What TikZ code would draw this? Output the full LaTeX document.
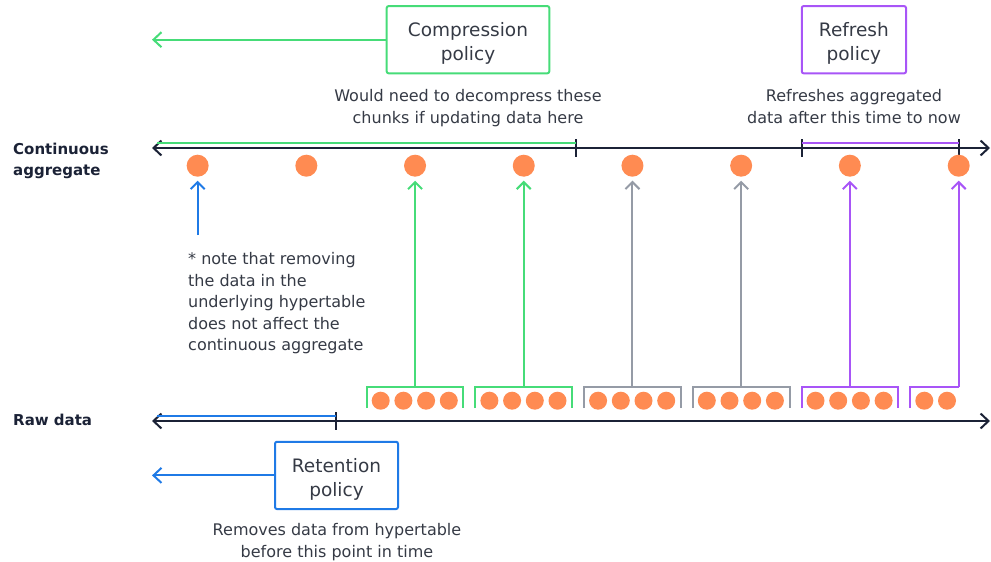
\documentclass[tikz,border=0pt]{standalone}
\usepackage{fontspec}
\setmainfont{DejaVu Sans}
\usetikzlibrary{arrows.meta}

\definecolor{axisc}{HTML}{1B2236}
\definecolor{grn}{HTML}{46DC78}
\definecolor{prp}{HTML}{A855F7}
\definecolor{blu}{HTML}{1F7AE6}
\definecolor{gry}{HTML}{959BA6}
\definecolor{org}{HTML}{FF8B52}
\definecolor{txt}{HTML}{353A45}

\begin{document}
\begin{tikzpicture}[x=1pt,y=-1pt,
  hbarb/.style={arrows={-Straight Barb[length=8pt,width=15pt]}},
  vbarb/.style={arrows={-Straight Barb[length=7pt,width=14pt]}, shorten >=4pt},
  axisline/.style={draw=axisc, line width=2pt,
    arrows={Straight Barb[length=8pt,width=15pt]-Straight Barb[length=8pt,width=15pt]}},
  tickmark/.style={inner sep=0pt, outer sep=0pt, minimum width=0pt, minimum height=18pt},
  bigdot/.style={circle, fill=org, minimum size=22pt, inner sep=0pt, outer sep=0pt},
  smalldot/.style={circle, fill=org, minimum size=18pt, inner sep=0pt},
  chunk/.style={inner sep=0pt, outer sep=0pt, minimum height=21.3pt},
  policy/.style={draw, line width=2pt, rounded corners=2pt, inner sep=0pt,
    minimum height=67.3pt},
  policytext/.style={align=center, text=txt, inner sep=0pt,
    font=\fontsize{18.5}{24}\selectfont},
  desc/.style={align=center, text=txt, inner sep=0pt,
    font=\fontsize{16}{21.5}\selectfont},
  rowlabel/.style={align=left, text=axisc, inner sep=0pt,
    font=\fontsize{15}{21.5}\selectfont\bfseries},
  link/.style={line width=2pt}
]
\useasboundingbox (0,0) rectangle (991,562);

% ---------- continuous aggregate axis ----------
\coordinate (al) at (152,148);
\coordinate (ar) at (990,148);
\draw[axisline] (al) -- (ar);
\node[tickmark] (k1) at (576,148) {};
\node[tickmark] (k2) at (801.5,148) {};
\node[tickmark] (k3) at (958.7,148) {};
\foreach \k in {k1,k2,k3}
  \draw[axisc, line width=2pt] (\k.north) -- (\k.south);
\coordinate (gs) at (157,142.7);
\draw[grn, link] (gs) -- (gs -| k1);
\draw[prp, link] (k2 |- gs) -- (k3 |- gs);

\foreach \i in {1,...,7}
  \node[bigdot] (t\i) at ({415.05+108.7*(\i-3)},165.7) {};
\node[bigdot] (t8) at (958.7,165.7) {};

% ---------- raw data axis ----------
\coordinate (bl) at (152,421);
\coordinate (br) at (990,421);
\draw[axisline] (bl) -- (br);
\node[tickmark] (k4) at (336,421) {};
\draw[axisc, line width=2pt] (k4.north) -- (k4.south);
\coordinate (bs) at (157,415.9);
\draw[blu, link] (bs) -- (bs -| k4);

% ---------- chunks of raw data ----------
\foreach \i in {1,...,5} {
  \pgfmathsetmacro{\L}{366.7+108.7*(\i-1)}
  \node[chunk, minimum width=96.7pt] (c\i) at (\L+48.35,397.35) {};
  \foreach \j in {0,1,2,3}
    \node[smalldot] (d\i\j) at (\L+14+22.7*\j,400.7) {};
}
\node[chunk, minimum width=48.7pt] (c6) at (934.35,397.35) {};
\node[smalldot] (d60) at (924.3,400.7) {};
\node[smalldot] (d61) at (947,400.7) {};

\foreach \i/\col in {1/grn,2/grn,3/gry,4/gry,5/prp}
  \draw[\col, link] (c\i.south west) -- (c\i.north west) -- (c\i.north east) -- (c\i.south east);
\draw[prp, link] (c6.south west) -- (c6.north west) -- (c6.north east);

% ---------- chunk to aggregate links ----------
\draw[grn, link, vbarb] (c1.north) -- (c1.north |- t3.south);
\draw[grn, link, vbarb] (c2.north) -- (c2.north |- t4.south);
\draw[gry, link, vbarb] (c3.north) -- (c3.north |- t5.south);
\draw[gry, link, vbarb] (c4.north) -- (c4.north |- t6.south);
\draw[prp, link, vbarb] (c5.north) -- (c5.north |- t7.south);
\draw[prp, link, vbarb] (c6.north east) -- (c6.north east |- t8.south);
\coordinate (nb) at (t1 |- 0,235);
\draw[blu, link, vbarb] (nb) -- (t1.south);

% ---------- policies ----------
\node[policy, draw=grn, minimum width=162.6pt] (comp) at (468,39.7) {};
\node[policy, draw=prp, minimum width=104.3pt] (refr) at (853.9,39.7) {};
\node[policy, draw=blu, minimum width=123pt] (ret) at (336.5,475.4) {};
\node[policytext] (compt) at ([yshift=-4pt]comp.center) {Compression\\policy};
\node[policytext] (refrt) at ([yshift=-4pt]refr.center) {Refresh\\policy};
\node[policytext] (rett) at ([yshift=-3.5pt]ret.center) {Retention\\policy};
\coordinate (ca) at (152,39.7);
\coordinate (ra) at (152,475.4);
\draw[grn, link, hbarb] (comp.west) -- (ca);
\draw[blu, link, hbarb] (ret.west) -- (ra);

% ---------- descriptions (anchored at the baseline of the last line) ----------
\node[desc, anchor=base] (cdesc) at (468,123)
  {Would need to decompress these\\chunks if updating data here};
\node[desc, anchor=base] (rdesc) at (854,123)
  {Refreshes aggregated\\data after this time to now};
\node[desc, anchor=base] (tdesc) at (337,557)
  {Removes data from hypertable\\before this point in time};
\node[desc, align=left, anchor=base west] (note) at (188,350.5)
  {* note that removing\\the data in the\\underlying hypertable\\does not affect the\\continuous aggregate};

% ---------- row labels ----------
\node[rowlabel, anchor=base west] (lca) at (13,175.7) {Continuous\\aggregate};
\node[rowlabel, anchor=base west] (lraw) at (13,425.8) {Raw data};
\end{tikzpicture}
\end{document}
